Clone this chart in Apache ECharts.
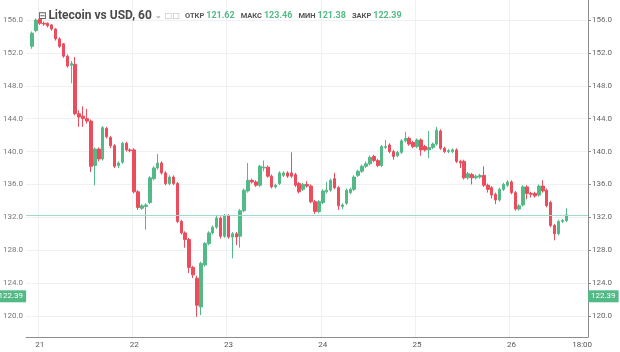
<!DOCTYPE html>
<html>
<head>
<meta charset="utf-8">
<script src="https://cdn.jsdelivr.net/npm/echarts@6/dist/echarts.min.js"></script>
<style>
  html, body { margin: 0; padding: 0; background: #fff; }
  #main { width: 620px; height: 352px; }
</style>
</head>
<body>
<div id="main"></div>
<script>
// hourly slots, 20th 21:00 .. 26th 19:00
var startDay = 20, startHour = 21, slotCount = 143, firstCandle = 1;

// candles 20th 22:00 .. 26th 14:00 (LTC/USD, 60 min)
var opens = [
  152.8, 154.7, 156.1, 155.6, 155.6, 155.4, 154.9, 153.7, 153.1, 151.6,
  150.5, 150.6, 144.6, 144.3, 144.0, 143.7, 138.3, 140.3, 139.1, 142.8,
  141.7, 140.7, 138.3, 138.7, 141.0, 140.2, 140.2, 135.1, 133.1, 133.3,
  133.8, 136.7, 138.0, 138.6, 137.4, 136.1, 136.9, 136.1, 131.5, 130.1,
  129.3, 125.9, 124.6, 121.1, 126.2, 128.8, 130.1, 130.8, 131.9, 129.7,
  132.2, 129.6, 130.0, 129.7, 132.8, 135.2, 136.5, 136.3, 135.9, 138.0,
  138.1, 137.0, 135.7, 136.1, 137.1, 137.4, 137.4, 137.2, 136.1, 135.4,
  136.0, 135.8, 133.9, 132.7, 133.8, 135.1, 135.3, 136.7, 135.6, 133.3,
  133.7, 135.0, 135.4, 137.1, 137.6, 138.2, 138.5, 139.4, 138.9, 138.3,
  140.5, 140.8, 140.0, 139.5, 139.9, 141.3, 141.6, 141.1, 140.6, 141.4,
  140.6, 140.2, 140.5, 140.9, 142.5, 140.4, 140.0, 140.0, 140.2, 138.8,
  138.8, 136.8, 137.2, 136.8, 136.9, 137.1, 135.9, 135.6, 134.8, 134.1,
  135.4, 135.9, 136.3, 135.0, 133.0, 133.5, 135.7, 134.9, 134.9, 134.7,
  135.8, 135.3, 133.8, 131.0, 130.0, 131.5, 131.6
];
var closes = [
  154.4, 156.0, 155.6, 155.5, 155.3, 154.9, 153.7, 152.8, 151.6, 150.4,
  150.7, 144.6, 144.2, 144.0, 143.7, 138.2, 140.3, 139.1, 142.9, 141.8,
  140.7, 138.2, 138.6, 141.0, 140.2, 140.1, 135.1, 133.2, 133.4, 133.5,
  136.8, 138.0, 138.6, 137.4, 136.1, 136.9, 136.1, 131.5, 130.1, 129.3,
  125.9, 125.0, 121.3, 126.4, 128.8, 130.1, 130.8, 131.9, 129.7, 132.2,
  129.6, 130.0, 129.6, 132.8, 135.3, 136.5, 136.3, 135.9, 138.2, 138.1,
  137.0, 135.7, 135.9, 137.4, 137.4, 137.0, 137.0, 135.9, 135.1, 136.0,
  135.8, 133.9, 132.7, 133.9, 135.2, 135.3, 136.5, 135.6, 133.4, 133.5,
  135.3, 135.4, 136.9, 137.6, 138.2, 138.5, 139.3, 138.9, 138.3, 140.6,
  140.6, 140.0, 139.4, 139.9, 141.3, 141.6, 140.9, 140.6, 141.4, 140.2,
  140.2, 140.5, 140.9, 142.6, 140.4, 140.0, 140.1, 140.2, 138.8, 138.6,
  136.8, 137.3, 136.8, 137.0, 137.1, 135.9, 135.4, 134.7, 134.1, 135.4,
  136.0, 136.3, 135.0, 133.0, 133.4, 135.7, 134.9, 134.8, 134.6, 135.8,
  135.2, 133.4, 131.0, 130.0, 131.5, 131.6, 132.3
];
var lows = [
  152.5, 154.5, 155.4, 155.3, 155.1, 154.7, 153.5, 152.6, 151.4, 150.2,
  148.3, 144.4, 143.0, 143.0, 143.4, 137.5, 135.9, 138.8, 138.9, 141.6,
  140.4, 138.0, 138.0, 138.5, 140.0, 139.9, 134.9, 132.9, 132.9, 130.5,
  133.6, 136.5, 137.8, 137.2, 135.9, 135.9, 135.9, 131.3, 129.9, 128.3,
  125.2, 124.6, 119.9, 120.1, 126.0, 128.6, 129.9, 130.6, 129.4, 129.5,
  129.4, 127.0, 128.6, 128.3, 132.6, 135.0, 136.1, 135.7, 135.7, 137.6,
  136.8, 135.5, 135.5, 135.9, 136.9, 136.8, 136.8, 135.7, 134.9, 135.2,
  135.6, 133.7, 132.4, 132.5, 133.6, 134.9, 135.1, 135.4, 132.9, 133.0,
  133.5, 134.8, 135.2, 136.9, 137.4, 138.0, 138.3, 138.7, 138.1, 138.1,
  140.3, 139.8, 139.0, 139.3, 139.7, 141.1, 140.7, 140.4, 140.4, 139.5,
  140.0, 139.2, 140.3, 140.7, 140.2, 139.8, 139.8, 139.8, 138.6, 138.0,
  136.6, 136.6, 136.0, 136.6, 136.7, 135.7, 135.0, 134.3, 133.6, 133.9,
  135.2, 135.7, 134.8, 132.8, 132.8, 133.3, 134.2, 134.4, 134.4, 134.5,
  135.0, 133.2, 130.8, 129.2, 129.8, 131.3, 131.4
];
var highs = [
  154.6, 156.2, 156.2, 155.8, 155.7, 155.5, 155.0, 153.9, 153.2, 151.8,
  151.0, 151.5, 145.0, 145.5, 145.2, 143.9, 140.5, 140.5, 143.1, 143.0,
  141.9, 140.9, 138.8, 141.2, 141.2, 140.4, 140.4, 135.3, 133.6, 133.7,
  137.0, 138.2, 139.7, 138.8, 137.6, 137.1, 137.1, 136.3, 131.7, 130.3,
  129.5, 126.1, 124.9, 126.6, 129.0, 130.3, 131.0, 132.3, 132.1, 132.4,
  132.4, 130.2, 130.2, 133.0, 135.5, 138.6, 136.7, 136.5, 138.4, 138.9,
  138.3, 137.2, 136.1, 137.6, 137.6, 137.6, 139.9, 137.4, 136.3, 136.2,
  136.4, 136.0, 134.1, 134.1, 135.4, 136.3, 136.7, 137.4, 135.8, 133.7,
  135.5, 135.6, 137.1, 137.8, 138.4, 138.8, 139.5, 139.6, 139.1, 140.8,
  141.4, 141.0, 140.2, 140.1, 141.5, 142.4, 141.8, 141.3, 141.6, 141.6,
  140.8, 142.5, 141.1, 143.0, 142.7, 140.6, 140.3, 140.4, 140.4, 139.0,
  139.0, 137.5, 137.4, 137.2, 137.3, 138.2, 136.1, 135.8, 135.0, 135.6,
  136.2, 136.5, 136.5, 135.2, 133.6, 135.9, 135.9, 135.1, 135.1, 136.0,
  136.5, 135.5, 134.0, 131.2, 131.7, 131.8, 133.1
];

var priceTicks = [120, 124, 128, 132, 136, 140, 144, 148, 152, 156];
var yMin = 117.44, yMax = 158.43;
var lastPrice = 132.3;
var quote = { open: '121.62', high: '123.46', low: '121.38', close: '122.39' };
var tagValue = 122.39;

var upColor = '#53b987', downColor = '#eb4d5c';

var categories = [];
for (var i = 0; i < slotCount; i++) {
  var t = startHour + i;
  var d = startDay + Math.floor(t / 24), hh = t % 24;
  categories.push(d + ' ' + (hh < 10 ? '0' : '') + hh + ':00');
}

var candleData = categories.map(function (c, i) {
  var k = i - firstCandle;
  if (k < 0 || k >= opens.length) return '-';
  return [opens[k], closes[k], lows[k], highs[k]];
});

function isMarked(idx, val) {
  return /00:00$/.test(val) || val === '26 18:00';
}

var chart = echarts.init(document.getElementById('main'));

var yLabel = function (v) { return v.toFixed(1); };

var tagLabel = {
  distance: 0, formatter: quote.close,
  backgroundColor: upColor, color: '#fff', fontSize: 8, padding: [2, 3]
};

var option = {
  backgroundColor: '#fff',
  animation: false,
  textStyle: { fontFamily: 'Roboto' },
  title: {
    left: 33,
    top: 5,
    text: '{box|⊟}{name|Litecoin vs USD, 60}{dd|⌄}{ico|□□}' +
          '{k0|ОТКР}{v|' + quote.open + '}{k|МАКС}{v|' + quote.high + '}' +
          '{k|МИН}{v|' + quote.low + '}{k|ЗАКР}{v|' + quote.close + '}',
    textStyle: {
      rich: {
        box: { fontFamily: 'DejaVu Sans', fontSize: 10, color: '#666', padding: [0, 2, 0, 0] },
        name: { fontFamily: 'Roboto', fontSize: 12, color: '#4a4a4a' },
        dd: { fontSize: 8, color: '#aaa', padding: [0, 3, 0, 3] },
        ico: { fontFamily: 'DejaVu Sans', fontSize: 8, color: '#b5b5b5' },
        k0: { fontSize: 7.5, color: '#555', fontWeight: 'bold', padding: [0, 2, 0, 5] },
        k: { fontSize: 7.5, color: '#555', fontWeight: 'bold', padding: [0, 2, 0, 6] },
        v: { fontSize: 9, color: upColor }
      }
    }
  },
  grid: { left: 26, right: 32, top: 0, bottom: 15 },
  xAxis: {
    type: 'category',
    data: categories,
    boundaryGap: true,
    axisLine: { lineStyle: { color: '#8c8c8c' } },
    axisTick: { interval: isMarked, alignWithLabel: true, length: 3, lineStyle: { color: '#8c8c8c' } },
    axisLabel: {
      interval: isMarked,
      fontSize: 8,
      color: '#555',
      margin: 4,
      formatter: function (val) {
        return val === '26 18:00' ? '18:00' : val.split(' ')[0];
      }
    },
    splitLine: {
      show: true,
      interval: function (idx, val) { return /00:00$/.test(val); },
      lineStyle: { color: '#eef0f4' }
    }
  },
  yAxis: [{
    type: 'value',
    position: 'right',
    min: yMin,
    max: yMax,
    axisLine: { show: true, lineStyle: { color: '#8c8c8c' } },
    axisTick: { show: true, length: 3, customValues: priceTicks, lineStyle: { color: '#8c8c8c' } },
    axisLabel: { fontSize: 8, color: '#666', margin: 4, customValues: priceTicks, formatter: yLabel },
    splitLine: { show: true, lineStyle: { color: '#eef0f4' } },
    // last price line
    axisPointer: {
      show: true,
      status: 'show',
      value: lastPrice,
      type: 'line',
      triggerTooltip: false,
      lineStyle: { color: '#9fd9cc', width: 1, type: 'solid' },
      label: { show: false }
    }
  }, {
    type: 'value',
    position: 'left',
    min: yMin,
    max: yMax,
    axisLine: { show: false },
    axisTick: { show: false, customValues: priceTicks },
    axisLabel: { fontSize: 8, color: '#777', margin: 3, customValues: priceTicks, formatter: yLabel },
    splitLine: { show: false }
  }],
  series: [{
    type: 'candlestick',
    data: candleData,
    barWidth: 3,
    itemStyle: {
      color: upColor,
      color0: downColor,
      borderColor: upColor,
      borderColor0: downColor,
      borderWidth: 1
    }
  }, {
    // axis tags for the quoted close
    type: 'line',
    data: [],
    silent: true,
    markLine: {
      silent: true,
      symbol: 'none',
      animation: false,
      lineStyle: { color: 'rgba(0,0,0,0)' },
      data: [
        { yAxis: tagValue, label: Object.assign({ show: true, position: 'end' }, tagLabel) },
        { yAxis: tagValue, label: Object.assign({ show: true, position: 'start' }, tagLabel) }
      ]
    }
  }]
};

chart.setOption(option);
</script>
</body>
</html>
